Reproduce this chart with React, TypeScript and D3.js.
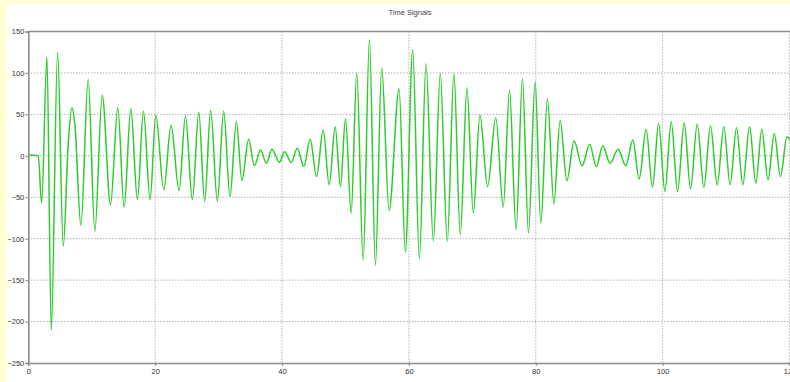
import React, { useEffect, useRef } from 'react';
import * as d3 from 'd3';

// peaks and troughs of the trace
const times = [
  0, 1.57, 2.1, 2.94, 3.62, 4.62, 5.51, 6.3, 6.87, 7.35, 8.29, 9.44, 10.49, 11.65, 12.96, 14.11,
  15.11, 16.16, 17.2, 18.15, 19.2, 20.1, 21.36, 22.5, 23.77, 24.77, 25.87, 26.87, 27.8, 28.75,
  29.8, 30.8, 31.8, 32.8, 33.68, 34.73, 35.63, 36.62, 37.52, 38.4, 39.6, 40.4, 41.45, 42.4,
  43.44, 44.44, 45.44, 46.49, 47.43, 48.38, 49.21, 50.0, 50.9, 51.78, 52.79, 53.78, 54.72,
  55.71, 56.88, 58.45, 59.44, 60.6, 61.65, 62.7, 63.85, 64.95, 66.05, 67.1, 68.1, 69.15, 70.15,
  71.2, 72.4, 73.7, 74.87, 75.86, 76.9, 77.9, 78.85, 79.9, 80.8, 81.84, 82.85, 83.84, 84.9,
  86.04, 87.3, 88.5, 89.55, 90.56, 91.7, 92.97, 94.2, 95.3, 96.3, 97.4, 98.4, 99.37, 100.36,
  101.35, 102.36, 103.4, 104.4, 105.45, 106.5, 107.55, 108.6, 109.65, 110.64, 111.65, 112.64,
  113.7, 114.7, 115.63, 116.62, 117.6, 118.57, 119.6, 120
];
const signal = [
  1, 0, -57, 119, -210, 125, -109, 15, 58, 37, -84, 92, -91, 73, -59, 58,
  -62, 57, -53, 54, -53, 49, -41, 37, -42, 48, -53, 53, -55, 55,
  -55, 54, -49, 41, -30, 20, -12, 7, -9, 8, -8, 5, -8, 9,
  -13, 20, -25, 31, -35, 35, -37, 45, -69, 100, -126, 140, -132,
  106, -66, 81, -116, 128, -124, 111, -103, 99, -103, 99, -95, 82, -69,
  49, -37, 46, -62, 79, -89, 93, -93, 89, -81, 69, -58, 43, -30,
  18, -12, 14, -13, 12, -9, 8, -12, 19, -28, 32, -38, 39, -43,
  41, -43, 40, -40, 38, -38, 36, -35, 35, -35, 34, -35,
  35, -33, 32, -29, 27, -25, 23, 20
];
const xTicks = [0, 20, 40, 60, 80, 100, 120];
const yTicks = [-250, -200, -150, -100, -50, 0, 50, 100, 150];
const title = 'Time Signals';

const W = 790, H = 382;
const margin = { top: 31.5, right: 0.5, bottom: 19, left: 28.3 };
const font = '7.5px "Liberation Sans", Arial, sans-serif';

const App = () => {
  const ref = useRef<SVGSVGElement>(null);

  useEffect(() => {
    const svg = d3.select(ref.current);
    svg.selectAll('*').remove();

    const x = d3.scaleLinear().domain([0, 120]).range([margin.left, W - margin.right]);
    const y = d3.scaleLinear().domain([-250, 150]).range([H - margin.bottom, margin.top]);

    svg.append('rect').attr('width', W).attr('height', H).attr('fill', '#ffffd2');
    svg.append('rect').attr('x', 7).attr('y', 4).attr('width', W).attr('height', H).attr('fill', '#fff');

    svg.append('text')
      .attr('x', 410).attr('y', 14.5)
      .attr('text-anchor', 'middle')
      .style('font', font)
      .attr('fill', '#444')
      .text(title);

    // grid
    svg.append('g').selectAll('line')
      .data(yTicks.filter(d => d > -250 && d < 150))
      .join('line')
      .attr('x1', margin.left).attr('x2', W)
      .attr('y1', d => y(d)).attr('y2', d => y(d))
      .attr('stroke', '#8a8a8a').attr('stroke-dasharray', '1,2');
    svg.append('g').selectAll('line')
      .data(xTicks.filter(d => d > 0))
      .join('line')
      .attr('x1', d => x(d)).attr('x2', d => x(d))
      .attr('y1', margin.top).attr('y2', H - margin.bottom)
      .attr('stroke', '#8a8a8a').attr('stroke-dasharray', '1,2');

    // axes
    const yAxis = svg.append('g')
      .attr('transform', `translate(${margin.left},0)`)
      .call(d3.axisLeft(y).tickValues(yTicks).tickSize(3).tickPadding(1));
    const xAxis = svg.append('g')
      .attr('transform', `translate(0,${H - margin.bottom})`)
      .call(d3.axisBottom(x).tickValues(xTicks).tickSize(3).tickPadding(3));
    [yAxis, xAxis].forEach(a => {
      a.select('.domain').attr('stroke', '#8c8c8c').attr('stroke-width', 1.6);
      a.selectAll('.tick line').attr('stroke', '#8c8c8c');
      a.selectAll('.tick text')
        .attr('fill', '#333')
        .style('font', font);
    });
    svg.append('line')
      .attr('x1', margin.left).attr('x2', W)
      .attr('y1', margin.top).attr('y2', margin.top)
      .attr('stroke', '#8c8c8c').attr('stroke-width', 1.6);

    const line = d3.line<number>()
      .x((d, i) => x(times[i]))
      .y(d => y(d))
      .curve(d3.curveMonotoneX);

    svg.append('path')
      .datum(signal)
      .attr('fill', 'none')
      .attr('stroke', '#2dcc2d')
      .attr('stroke-width', 1.5)
      .attr('stroke-linejoin', 'round')
      .attr('d', line);
  }, []);

  return (
    <>
      <style>{'body{margin:0;overflow:hidden}'}</style>
      <svg ref={ref} width={W} height={H} style={{ display: 'block' }} />
    </>
  );
};

export default App;
